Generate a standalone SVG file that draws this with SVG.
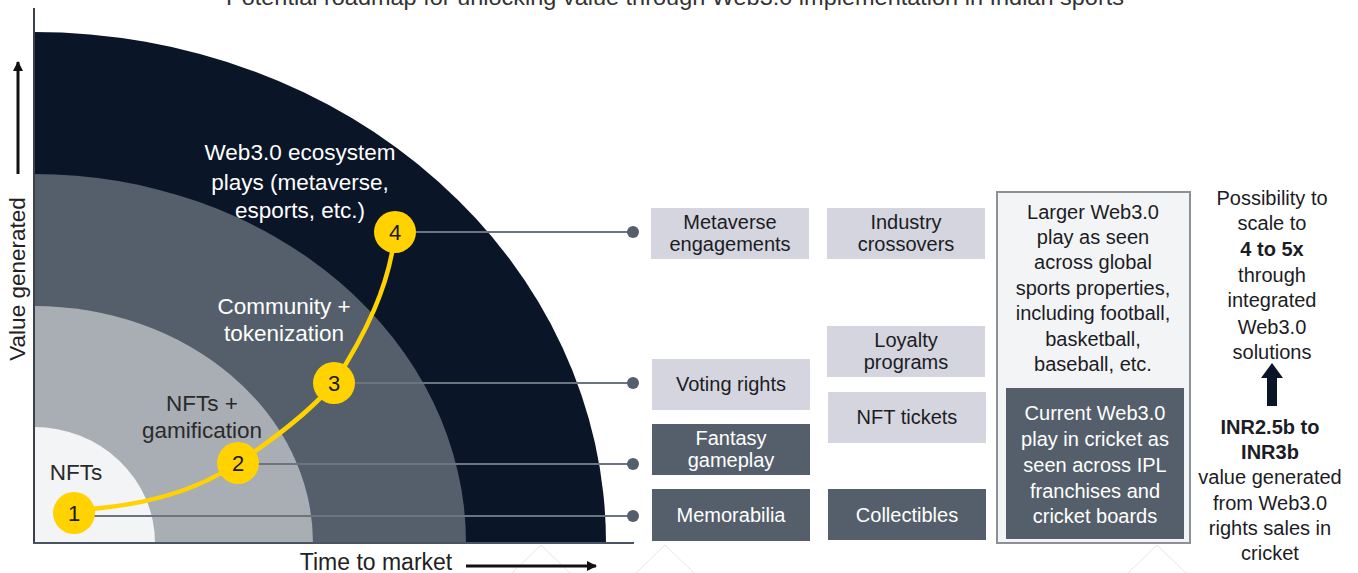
<svg xmlns="http://www.w3.org/2000/svg" width="1358" height="573" viewBox="0 0 1358 573">
<defs>
<style>
text{font-family:"Liberation Sans",Arial,sans-serif;}
.t20{font-size:20px;text-anchor:middle;fill:#1c1c24;}
.w20{font-size:20px;text-anchor:middle;fill:#ffffff;}
.lbl{font-size:22.5px;text-anchor:middle;}
.num{font-size:22px;text-anchor:middle;fill:#1a1a1a;}
.light{fill:#d4d5de;}
.dark{fill:#555f6b;}
.conn{stroke:#6b7480;stroke-width:2;fill:none;}
.dot{fill:#555f6b;}
.yc{fill:#ffd200;}
.wm{stroke:#e6e6e8;stroke-width:1;fill:none;}
.b{font-weight:bold;}
</style>
<marker id="ah" viewBox="0 0 10 10" refX="9" refY="5" markerWidth="3.5" markerHeight="3.5" orient="auto">
<path d="M0,0 L10,5 L0,10 Z" fill="#111"/>
</marker>
</defs>
<rect width="1358" height="573" fill="#ffffff"/>
<text x="675" y="5" textLength="898" lengthAdjust="spacingAndGlyphs" style="font-size:22px;text-anchor:middle;fill:#333">Potential roadmap for unlocking value through Web3.0 implementation in Indian sports</text>

<g id="watermark">
<path class="wm" d="M512,573 L541,545 L570,573"/>
<path class="wm" d="M636,573 L665,545 L694,573"/>
<path class="wm" d="M1128,573 L1157,545 L1186,573"/>
</g>

<g id="bands">
<path d="M34,543 L34,32 A572,511 0 0 1 606,543 Z" fill="#0a1528"/>
<path d="M34,543 L34,174 A432,369 0 0 1 466,543 Z" fill="#555f6b"/>
<path d="M34,543 L34,306 A279,237 0 0 1 313,543 Z" fill="#a8aeb4"/>
<path d="M34,543 L34,427 A121,116 0 0 1 155,543 Z" fill="#f3f4f6"/>
</g>

<g id="axes">
<line x1="34" y1="8" x2="34" y2="544" stroke="#3a414c" stroke-width="2"/>
<line x1="33" y1="543" x2="634" y2="543" stroke="#4a5361" stroke-width="2"/>
<line x1="18" y1="174" x2="18" y2="62" stroke="#111" stroke-width="3" marker-end="url(#ah)"/>
<text transform="translate(25,279) rotate(-90)" style="font-size:22.5px;text-anchor:middle;fill:#222">Value generated</text>
<text x="376" y="570" style="font-size:23px;text-anchor:middle;fill:#222">Time to market</text>
<line x1="466" y1="566" x2="596" y2="566" stroke="#111" stroke-width="3" marker-end="url(#ah)"/>
</g>

<g id="band-labels">
<text class="lbl" x="300" y="160" fill="#ffffff">Web3.0 ecosystem</text>
<text class="lbl" x="300" y="190" fill="#ffffff">plays (metaverse,</text>
<text class="lbl" x="300" y="218" fill="#ffffff">esports, etc.)</text>
<text class="lbl" x="284" y="314" fill="#ffffff">Community +</text>
<text class="lbl" x="284" y="341" fill="#ffffff">tokenization</text>
<text class="lbl" x="202" y="411" fill="#2a2a2a">NFTs +</text>
<text class="lbl" x="202" y="438" fill="#2a2a2a">gamification</text>
<text class="lbl" x="76" y="480" fill="#2a2a2a">NFTs</text>
</g>

<g id="connectors">
<line class="conn" x1="414" y1="232" x2="633" y2="232"/>
<line class="conn" x1="354" y1="383" x2="633" y2="383"/>
<line class="conn" x1="258" y1="464" x2="633" y2="464"/>
<line class="conn" x1="94" y1="516" x2="633" y2="516"/>
<circle class="dot" cx="633" cy="232" r="6"/>
<circle class="dot" cx="633" cy="383" r="6"/>
<circle class="dot" cx="633" cy="464" r="6"/>
<circle class="dot" cx="633" cy="516" r="6"/>
<path d="M74,510 C140,507 195,492 238,463 C275,438 310,412 334,383 C365,335 390,285 395,232" stroke="#ffd200" stroke-width="4.5" fill="none"/>
</g>

<g id="step1"><ellipse class="yc" cx="74" cy="513" rx="21" ry="21"/><text class="num" x="74" y="521">1</text></g>
<g id="step2"><circle class="yc" cx="238" cy="463" r="21"/><text class="num" x="238" y="471">2</text></g>
<g id="step3"><circle class="yc" cx="334" cy="383" r="21"/><text class="num" x="334" y="391">3</text></g>
<g id="step4"><circle class="yc" cx="395" cy="232" r="21"/><text class="num" x="395" y="240">4</text></g>

<g id="metaverse"><rect class="light" x="651" y="208" width="158" height="51"/><text class="t20" x="730" y="229">Metaverse</text><text class="t20" x="730" y="251">engagements</text></g>
<g id="industry"><rect class="light" x="827" y="208" width="158" height="51"/><text class="t20" x="906" y="229">Industry</text><text class="t20" x="906" y="251">crossovers</text></g>
<g id="loyalty"><rect class="light" x="827" y="326" width="158" height="51"/><text class="t20" x="906" y="347">Loyalty</text><text class="t20" x="906" y="369">programs</text></g>
<g id="voting"><rect class="light" x="652" y="359" width="158" height="51"/><text class="t20" x="731" y="391">Voting rights</text></g>
<g id="nfttickets"><rect class="light" x="828" y="392" width="158" height="51"/><text class="t20" x="907" y="424">NFT tickets</text></g>
<g id="fantasy"><rect class="dark" x="652" y="424" width="158" height="51"/><text class="w20" x="731" y="445">Fantasy</text><text class="w20" x="731" y="467">gameplay</text></g>
<g id="memorabilia"><rect class="dark" x="652" y="489" width="158" height="52"/><text class="w20" x="731" y="522">Memorabilia</text></g>
<g id="collectibles"><rect class="dark" x="828" y="489" width="158" height="51"/><text class="w20" x="907" y="522">Collectibles</text></g>

<g id="larger">
<rect x="997" y="192" width="193" height="351" fill="#f3f4f6" stroke="#8c9197" stroke-width="2"/>
<text class="t20" x="1093" y="219">Larger Web3.0</text>
<text class="t20" x="1093" y="244">play as seen</text>
<text class="t20" x="1093" y="269">across global</text>
<text class="t20" x="1093" y="295">sports properties,</text>
<text class="t20" x="1093" y="320">including football,</text>
<text class="t20" x="1093" y="346">basketball,</text>
<text class="t20" x="1093" y="371">baseball, etc.</text>
</g>
<g id="current">
<rect class="dark" x="1006" y="388" width="178" height="151"/>
<text class="w20" x="1095" y="420">Current Web3.0</text>
<text class="w20" x="1095" y="446">play in cricket as</text>
<text class="w20" x="1095" y="472">seen across IPL</text>
<text class="w20" x="1095" y="498">franchises and</text>
<text class="w20" x="1095" y="523">cricket boards</text>
</g>

<g id="scale">
<text class="t20" x="1272" y="205">Possibility to</text>
<text class="t20" x="1272" y="230">scale to</text>
<text class="t20 b" x="1272" y="256">4 to 5x</text>
<text class="t20" x="1272" y="282">through</text>
<text class="t20" x="1272" y="307">integrated</text>
<text class="t20" x="1272" y="334">Web3.0</text>
<text class="t20" x="1272" y="359">solutions</text>
</g>
<g id="up-arrow">
<path d="M1272,363 L1283,378 L1277,378 L1277,406 L1267,406 L1267,378 L1261,378 Z" fill="#0a1528"/>
</g>
<g id="inr">
<text class="t20 b" x="1270" y="434">INR2.5b to</text>
<text class="t20 b" x="1270" y="459">INR3b</text>
<text class="t20" x="1270" y="484">value generated</text>
<text class="t20" x="1270" y="510">from Web3.0</text>
<text class="t20" x="1270" y="535">rights sales in</text>
<text class="t20" x="1270" y="560">cricket</text>
</g>
</svg>
